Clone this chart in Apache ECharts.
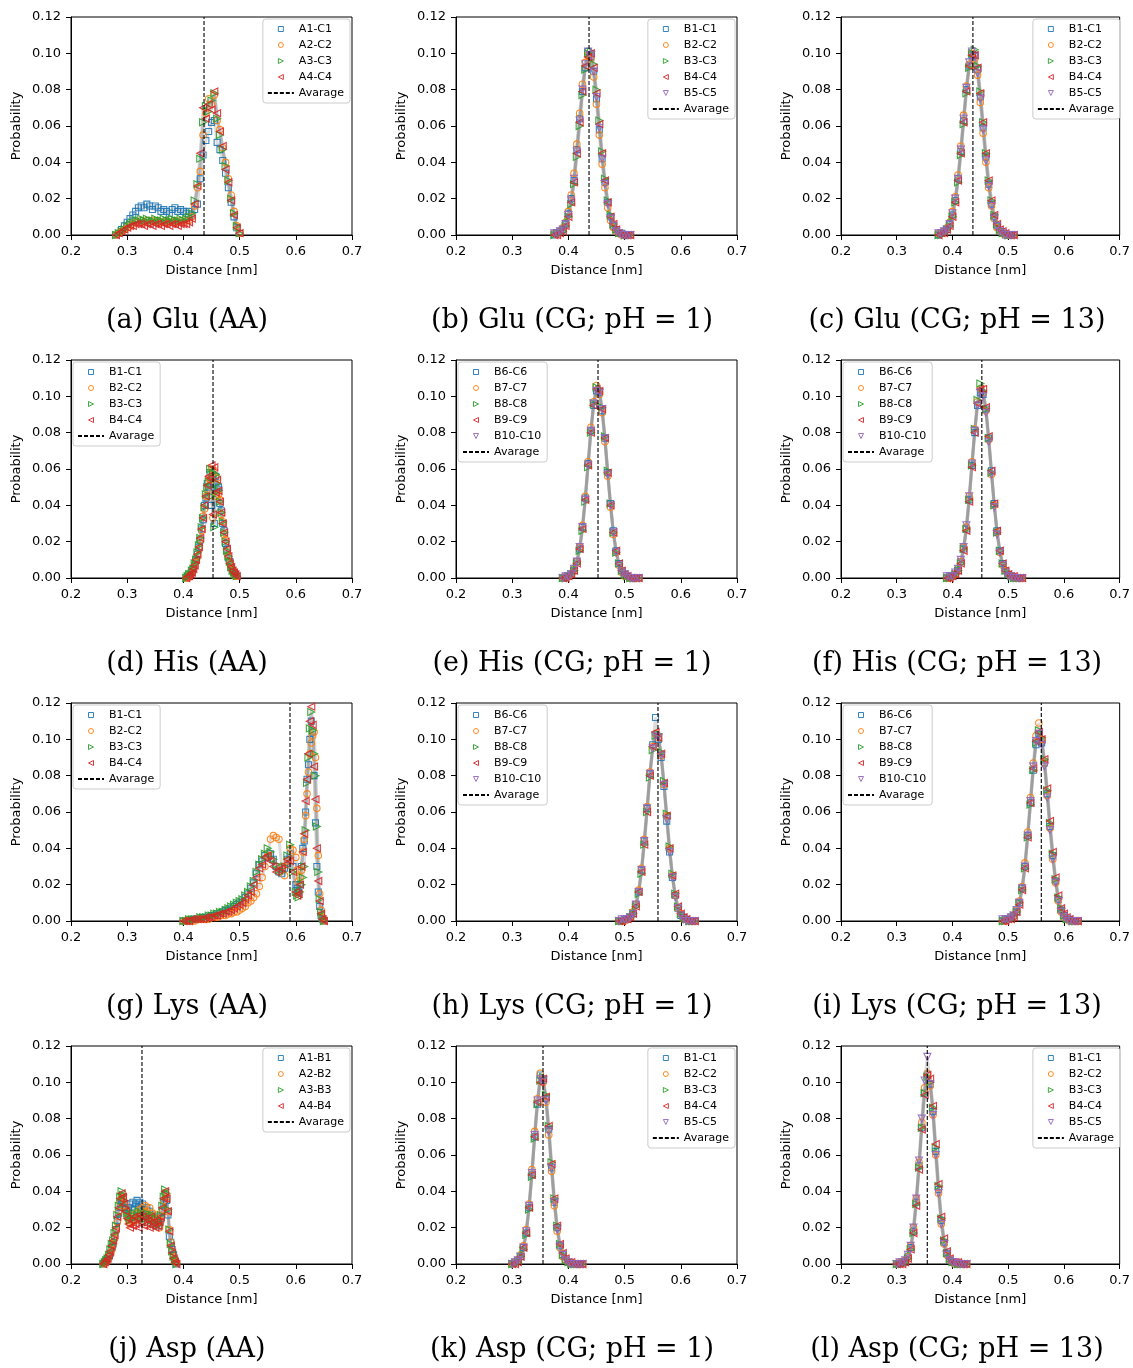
<!DOCTYPE html>
<html><head><meta charset="utf-8">
<script src="https://cdn.jsdelivr.net/npm/echarts/dist/echarts.min.js"></script>
<style>html,body{margin:0;padding:0;background:#fff}#c{width:1133px;height:1368px}</style>
</head><body><div id="c"></div>
<script>
// ---------------- tick labels / axes ----------------
const xTicks = [0.2, 0.3, 0.4, 0.5, 0.6, 0.7];
const yTicks = [0.00, 0.02, 0.04, 0.06, 0.08, 0.10, 0.12];

// ---------------- series names ----------------
const namesGluAA = ['A1-C1', 'A2-C2', 'A3-C3', 'A4-C4'];
const namesB1_5 = ['B1-C1', 'B2-C2', 'B3-C3', 'B4-C4', 'B5-C5'];
const namesB1_4 = ['B1-C1', 'B2-C2', 'B3-C3', 'B4-C4'];
const namesB6_10 = ['B6-C6', 'B7-C7', 'B8-C8', 'B9-C9', 'B10-C10'];
const namesAspAA = ['A1-B1', 'A2-B2', 'A3-B3', 'A4-B4'];
const avgName = 'Avarage';

// ---------------- average distances (dashed lines) ----------------
const averages = [0.4367, 0.4367, 0.4367, 0.4527, 0.4527, 0.4527, 0.5897, 0.5594, 0.5594, 0.3263, 0.3548, 0.3548];

// ---------------- captions ----------------
const captions = ['(a) Glu (AA)', '(b) Glu (CG; pH = 1)', '(c) Glu (CG; pH = 13)',
  '(d) His (AA)', '(e) His (CG; pH = 1)', '(f) His (CG; pH = 13)',
  '(g) Lys (AA)', '(h) Lys (CG; pH = 1)', '(i) Lys (CG; pH = 13)',
  '(j) Asp (AA)', '(k) Asp (CG; pH = 1)', '(l) Asp (CG; pH = 13)'];

// ---------------- (a) Glu AA ----------------
const xGluAA = [.28,.285,.29,.295,.30,.305,.31,.315,.32,.325,.33,.335,.34,.345,.35,.355,.36,.365,.37,.375,.38,.385,.39,.395,.40,.405,.41,.415,.42,.425,.43,.435,.44,.445,.45,.455,.46,.465,.47,.475,.48,.485,.49,.495,.50];
const gluAA_1 = [.000,.001,.003,.005,.007,.009,.011,.013,.015,.016,.015,.017,.016,.014,.016,.015,.013,.014,.013,.012,.014,.015,.013,.014,.013,.012,.013,.011,.014,.017,.031,.044,.052,.057,.062,.063,.051,.047,.041,.034,.026,.018,.010,.004,.001];
const gluAA_2 = [.000,.001,.002,.003,.004,.005,.006,.007,.007,.008,.007,.008,.007,.008,.007,.008,.007,.007,.008,.007,.007,.008,.007,.008,.007,.008,.008,.010,.016,.026,.035,.055,.067,.075,.072,.077,.063,.058,.048,.040,.031,.022,.013,.005,.001];
const gluAA_3 = [.000,.001,.002,.003,.005,.006,.007,.008,.008,.009,.008,.009,.008,.008,.009,.008,.008,.009,.008,.008,.009,.008,.008,.009,.008,.009,.010,.012,.019,.028,.042,.062,.071,.068,.074,.078,.064,.055,.047,.038,.030,.020,.012,.005,.001];
const gluAA_4 = [.000,.001,.002,.003,.004,.005,.005,.006,.006,.006,.005,.006,.006,.005,.006,.006,.005,.006,.006,.005,.006,.006,.005,.006,.006,.006,.007,.009,.017,.027,.045,.070,.064,.072,.069,.079,.067,.057,.049,.036,.029,.019,.011,.004,.001];

// ---------------- (b),(c) Glu CG ----------------
const xGluCG = [.375,.38,.385,.39,.395,.40,.405,.41,.415,.42,.425,.43,.435,.44,.445,.45,.455,.46,.465,.47,.475,.48,.485,.49,.495,.50,.505,.51];
const gluCG1_1 = [.000,.001,.002,.003,.006,.012,.020,.030,.047,.064,.079,.092,.101,.098,.090,.075,.058,.042,.029,.018,.010,.005,.003,.001,.001,.000,.000,.000];
const gluCG1_2 = [.001,.001,.002,.004,.007,.013,.022,.034,.050,.067,.083,.095,.099,.097,.087,.072,.055,.039,.026,.015,.008,.004,.002,.001,.000,.000,.000,.000];
const gluCG1_3 = [.000,.001,.001,.002,.005,.010,.017,.028,.043,.060,.077,.091,.100,.101,.094,.080,.063,.046,.031,.019,.011,.006,.003,.001,.001,.000,.000,.000];
const gluCG1_4 = [.000,.000,.001,.002,.005,.010,.018,.029,.045,.062,.079,.093,.098,.100,.092,.078,.061,.045,.030,.018,.010,.006,.003,.001,.000,.000,.000,.000];
const gluCG1_5 = [.001,.001,.002,.003,.006,.011,.019,.031,.046,.063,.080,.094,.101,.099,.090,.076,.059,.042,.028,.017,.009,.005,.002,.001,.000,.000,.000,.000];
const gluCG13_1 = [.000,.001,.002,.003,.006,.011,.019,.031,.046,.063,.080,.093,.099,.099,.091,.076,.059,.043,.028,.017,.010,.005,.002,.001,.000,.000,.000,.000];
const gluCG13_2 = [.001,.001,.002,.004,.007,.013,.021,.033,.049,.066,.082,.094,.100,.097,.088,.073,.056,.040,.026,.016,.009,.004,.002,.001,.000,.000,.000,.000];
const gluCG13_3 = [.000,.000,.001,.003,.005,.010,.018,.029,.044,.061,.078,.092,.100,.102,.093,.079,.062,.045,.030,.019,.011,.006,.003,.001,.001,.000,.000,.000];
const gluCG13_4 = [.000,.001,.001,.003,.005,.010,.018,.030,.045,.062,.079,.093,.099,.099,.092,.078,.062,.045,.030,.019,.011,.006,.003,.002,.001,.000,.000,.000];
const gluCG13_5 = [.001,.001,.002,.003,.006,.012,.020,.031,.047,.064,.081,.095,.101,.098,.089,.075,.058,.041,.027,.016,.009,.005,.002,.001,.000,.000,.000,.000];

// ---------------- (d) His AA ----------------
const xHisAA = [.405,.4075,.41,.4125,.415,.4175,.42,.4225,.425,.4275,.43,.4325,.435,.4375,.44,.4425,.445,.4475,.45,.4525,.455,.4575,.46,.4625,.465,.4675,.47,.4725,.475,.4775,.48,.4825,.485,.4875,.49,.4925,.495];
const hisAA_1 = [.000,.001,.001,.002,.003,.005,.007,.010,.013,.017,.021,.027,.032,.040,.044,.052,.050,.058,.040,.057,.030,.056,.049,.050,.041,.037,.030,.026,.019,.016,.011,.009,.006,.004,.003,.002,.001];
const hisAA_2 = [.000,.000,.001,.002,.003,.004,.007,.009,.012,.016,.021,.026,.034,.038,.045,.049,.055,.054,.060,.033,.059,.045,.055,.046,.043,.035,.031,.024,.021,.015,.012,.008,.006,.004,.003,.001,.001];
const hisAA_3 = [.000,.001,.002,.002,.004,.005,.008,.010,.014,.018,.022,.028,.033,.039,.046,.050,.053,.060,.045,.058,.028,.057,.052,.048,.042,.036,.031,.025,.020,.015,.012,.009,.006,.004,.003,.002,.001];
const hisAA_4 = [.000,.001,.001,.002,.003,.005,.007,.010,.013,.017,.022,.027,.033,.040,.045,.051,.056,.055,.062,.035,.061,.047,.054,.048,.042,.036,.030,.025,.020,.016,.012,.008,.006,.004,.003,.002,.001];

// ---------------- (e),(f) His CG ----------------
const xHisCG = [.39,.395,.40,.405,.41,.415,.42,.425,.43,.435,.44,.445,.45,.455,.46,.465,.47,.475,.48,.485,.49,.495,.50,.505,.51,.515,.52,.525];
const hisCG1_1 = [.000,.000,.001,.002,.004,.009,.016,.028,.044,.063,.081,.095,.103,.102,.092,.077,.058,.041,.026,.015,.008,.004,.002,.001,.000,.000,.000,.000];
const hisCG1_2 = [.000,.001,.001,.002,.005,.009,.017,.029,.045,.064,.083,.097,.106,.101,.091,.075,.056,.039,.024,.014,.007,.003,.001,.001,.000,.000,.000,.000];
const hisCG1_3 = [.000,.000,.001,.002,.004,.008,.015,.026,.042,.061,.080,.096,.105,.104,.094,.078,.059,.041,.025,.014,.008,.004,.002,.001,.000,.000,.000,.000];
const hisCG1_4 = [.000,.000,.001,.002,.004,.008,.016,.027,.043,.062,.080,.095,.104,.103,.093,.077,.058,.040,.025,.015,.008,.004,.002,.001,.000,.000,.000,.000];
const hisCG1_5 = [.000,.001,.001,.002,.005,.009,.017,.028,.043,.062,.081,.096,.103,.102,.093,.077,.057,.040,.025,.014,.007,.003,.002,.001,.000,.000,.000,.000];
const hisCG13_1 = [.000,.001,.001,.002,.004,.009,.016,.027,.043,.062,.080,.095,.102,.101,.093,.077,.059,.041,.026,.015,.008,.004,.002,.001,.000,.000,.000,.000];
const hisCG13_2 = [.000,.000,.001,.002,.005,.009,.017,.028,.045,.064,.082,.097,.104,.102,.092,.076,.057,.040,.025,.014,.007,.004,.002,.001,.000,.000,.000,.000];
const hisCG13_3 = [.000,.000,.001,.002,.004,.008,.016,.027,.043,.062,.082,.098,.107,.103,.093,.077,.058,.040,.025,.015,.008,.004,.002,.001,.000,.000,.000,.000];
const hisCG13_4 = [.000,.000,.001,.002,.004,.008,.015,.026,.042,.061,.080,.096,.104,.104,.094,.078,.059,.041,.026,.015,.008,.004,.002,.001,.001,.000,.000,.000];
const hisCG13_5 = [.001,.001,.001,.003,.005,.010,.017,.029,.045,.063,.081,.095,.102,.100,.091,.075,.057,.039,.024,.014,.007,.003,.001,.001,.000,.000,.000,.000];

// ---------------- (g) Lys AA ----------------
const xLysAA = [.40,.405,.41,.415,.42,.425,.43,.435,.44,.445,.45,.455,.46,.465,.47,.475,.48,.485,.49,.495,.50,.505,.51,.515,.52,.525,.53,.535,.54,.545,.55,.555,.56,.565,.57,.575,.58,.585,.59,.595,.60,.6025,.605,.6075,.61,.6125,.615,.6175,.62,.6225,.625,.6275,.63,.6325,.635,.6375,.64,.6425,.645,.6475,.65];
const lysAA_1 = [.000,.000,.000,.001,.001,.001,.001,.002,.002,.002,.003,.003,.004,.004,.005,.006,.006,.007,.008,.009,.010,.011,.013,.015,.018,.021,.026,.031,.033,.036,.035,.037,.034,.030,.027,.026,.029,.034,.037,.030,.020,.018,.016,.020,.030,.040,.044,.060,.078,.086,.100,.110,.104,.080,.054,.030,.016,.008,.003,.001,.000];
const lysAA_2 = [.000,.000,.000,.000,.000,.001,.001,.001,.001,.001,.002,.002,.002,.003,.003,.003,.004,.004,.005,.005,.006,.007,.008,.010,.011,.013,.015,.019,.024,.030,.036,.045,.047,.046,.045,.030,.025,.033,.040,.039,.035,.028,.022,.024,.028,.038,.045,.058,.070,.082,.092,.098,.102,.104,.090,.062,.036,.015,.006,.002,.000];
const lysAA_3 = [.000,.000,.001,.001,.001,.001,.002,.002,.002,.003,.003,.004,.004,.005,.005,.006,.007,.008,.009,.010,.011,.012,.014,.016,.019,.022,.027,.031,.034,.037,.040,.038,.034,.031,.028,.027,.030,.036,.042,.027,.016,.014,.013,.016,.020,.024,.030,.050,.076,.090,.106,.115,.105,.092,.080,.052,.027,.012,.005,.002,.000];
const lysAA_4 = [.000,.000,.000,.001,.001,.001,.001,.001,.002,.002,.002,.003,.003,.004,.004,.005,.005,.006,.007,.008,.009,.010,.012,.014,.016,.020,.024,.029,.031,.035,.036,.033,.030,.027,.028,.029,.031,.034,.033,.027,.016,.014,.015,.020,.030,.038,.048,.066,.078,.092,.110,.118,.108,.085,.067,.040,.022,.011,.004,.001,.000];

// ---------------- (h),(i) Lys CG ----------------
const xLysCG = [.49,.495,.50,.505,.51,.515,.52,.525,.53,.535,.54,.545,.55,.555,.56,.565,.57,.575,.58,.585,.59,.595,.60,.605,.61,.615,.62,.625];
const lysCG1_1 = [.000,.000,.001,.001,.002,.004,.009,.016,.028,.044,.062,.081,.097,.112,.100,.090,.074,.055,.038,.024,.014,.007,.003,.002,.001,.000,.000,.000];
const lysCG1_2 = [.000,.000,.000,.001,.002,.005,.009,.017,.029,.045,.063,.082,.096,.103,.101,.091,.075,.058,.040,.025,.014,.007,.004,.001,.001,.000,.000,.000];
const lysCG1_3 = [.000,.000,.000,.001,.002,.004,.008,.015,.026,.042,.060,.079,.094,.102,.103,.093,.077,.059,.041,.026,.015,.008,.004,.002,.001,.000,.000,.000];
const lysCG1_4 = [.000,.000,.001,.001,.002,.004,.008,.016,.027,.042,.060,.080,.096,.104,.101,.092,.076,.058,.040,.025,.015,.008,.004,.002,.001,.000,.000,.000];
const lysCG1_5 = [.000,.001,.001,.001,.002,.004,.009,.016,.028,.044,.062,.081,.095,.102,.101,.091,.075,.056,.038,.024,.013,.007,.003,.001,.000,.000,.000,.000];
const lysCG13_1 = [.000,.001,.001,.002,.003,.005,.010,.018,.030,.047,.065,.083,.097,.103,.098,.087,.070,.052,.036,.022,.012,.006,.003,.001,.001,.000,.000,.000];
const lysCG13_2 = [.000,.000,.001,.002,.003,.006,.011,.019,.032,.049,.068,.087,.102,.109,.100,.087,.069,.051,.034,.021,.011,.005,.002,.001,.000,.000,.000,.000];
const lysCG13_3 = [.000,.000,.001,.001,.003,.005,.010,.017,.029,.046,.064,.083,.098,.105,.101,.089,.072,.054,.037,.023,.013,.007,.003,.001,.001,.000,.000,.000];
const lysCG13_4 = [.000,.000,.001,.001,.002,.005,.009,.017,.029,.046,.065,.084,.099,.104,.100,.089,.073,.055,.038,.024,.014,.007,.004,.002,.001,.000,.000,.000];
const lysCG13_5 = [.001,.001,.001,.002,.003,.006,.010,.018,.030,.047,.066,.085,.099,.103,.097,.085,.068,.050,.034,.021,.011,.005,.002,.001,.000,.000,.000,.000];

// ---------------- (j) Asp AA ----------------
const xAspAA = [.2575,.26,.2625,.265,.2675,.27,.2725,.275,.2775,.28,.2825,.285,.2875,.29,.2925,.295,.2975,.30,.3025,.305,.3075,.31,.3125,.315,.3175,.32,.3225,.325,.3275,.33,.3325,.335,.3375,.34,.3425,.345,.3475,.35,.3525,.355,.3575,.36,.3625,.365,.3675,.37,.3725,.375,.3775,.38,.3825,.385,.3875];
const aspAA_1 = [.000,.001,.002,.003,.004,.006,.009,.011,.015,.019,.024,.028,.033,.035,.034,.031,.030,.029,.031,.033,.028,.034,.030,.033,.035,.031,.034,.029,.033,.030,.027,.031,.026,.029,.025,.027,.023,.026,.022,.024,.021,.025,.029,.033,.038,.035,.027,.015,.012,.008,.005,.002,.000];
const aspAA_2 = [.000,.001,.001,.002,.004,.006,.008,.011,.014,.018,.023,.029,.034,.037,.036,.032,.029,.026,.024,.022,.025,.023,.027,.024,.028,.026,.030,.027,.031,.028,.032,.029,.027,.031,.026,.028,.024,.027,.022,.025,.020,.024,.030,.035,.039,.037,.029,.019,.012,.007,.004,.002,.001];
const aspAA_3 = [.000,.001,.002,.003,.005,.008,.011,.013,.017,.021,.027,.032,.037,.040,.038,.035,.031,.028,.026,.024,.027,.025,.028,.024,.026,.029,.025,.028,.024,.027,.025,.028,.023,.026,.024,.027,.022,.025,.021,.024,.022,.027,.032,.037,.041,.039,.030,.019,.011,.007,.004,.002,.000];
const aspAA_4 = [.000,.001,.002,.003,.005,.007,.010,.013,.016,.020,.026,.031,.036,.039,.037,.033,.029,.025,.022,.020,.024,.021,.026,.022,.025,.020,.027,.023,.026,.021,.025,.022,.024,.020,.026,.021,.023,.020,.024,.021,.023,.026,.031,.036,.040,.036,.029,.018,.010,.006,.003,.001,.000];

// ---------------- (k),(l) Asp CG ----------------
const xAspCG = [.30,.305,.31,.315,.32,.325,.33,.335,.34,.345,.35,.355,.36,.365,.37,.375,.38,.385,.39,.395,.40,.405,.41,.415,.42,.425];
const aspCG1_1 = [.000,.001,.002,.004,.009,.017,.031,.049,.070,.088,.104,.101,.091,.074,.053,.034,.020,.010,.005,.002,.001,.000,.000,.000,.000,.000];
const aspCG1_2 = [.000,.001,.002,.005,.010,.019,.033,.052,.073,.091,.105,.100,.089,.071,.051,.032,.018,.009,.004,.002,.001,.000,.000,.000,.000,.000];
const aspCG1_3 = [.000,.000,.001,.004,.008,.016,.030,.048,.069,.088,.101,.103,.093,.076,.056,.036,.021,.011,.005,.002,.001,.000,.000,.000,.000,.000];
const aspCG1_4 = [.000,.000,.001,.004,.009,.017,.031,.049,.070,.089,.100,.102,.092,.076,.055,.036,.021,.011,.006,.003,.001,.001,.000,.000,.000,.000];
const aspCG1_5 = [.000,.001,.002,.004,.009,.018,.032,.050,.071,.090,.102,.101,.090,.073,.053,.034,.019,.010,.005,.002,.001,.000,.000,.000,.000,.000];
const aspCG13_1 = [.000,.000,.001,.001,.004,.009,.018,.034,.054,.075,.094,.104,.099,.084,.062,.041,.024,.012,.006,.002,.001,.000,.000,.000,.000,.000];
const aspCG13_2 = [.000,.001,.001,.002,.004,.010,.020,.036,.056,.078,.097,.105,.098,.082,.060,.039,.022,.011,.005,.002,.001,.000,.000,.000,.000,.000];
const aspCG13_3 = [.000,.000,.000,.001,.003,.008,.017,.033,.053,.075,.094,.103,.100,.086,.064,.043,.025,.013,.006,.003,.001,.001,.000,.000,.000,.000];
const aspCG13_4 = [.000,.000,.000,.001,.003,.008,.017,.032,.052,.074,.093,.104,.102,.087,.066,.044,.026,.014,.007,.003,.001,.001,.001,.000,.000,.000];
const aspCG13_5 = [.000,.001,.001,.002,.005,.010,.020,.036,.057,.080,.101,.114,.099,.082,.060,.039,.022,.011,.005,.002,.001,.001,.000,.000,.000,.000];

// ---------------- panel assembly ----------------
const panels = [
  {x: xGluAA, ys: [gluAA_1, gluAA_2, gluAA_3, gluAA_4], names: namesGluAA, leg: 'right'},
  {x: xGluCG, ys: [gluCG1_1, gluCG1_2, gluCG1_3, gluCG1_4, gluCG1_5], names: namesB1_5, leg: 'right'},
  {x: xGluCG, ys: [gluCG13_1, gluCG13_2, gluCG13_3, gluCG13_4, gluCG13_5], names: namesB1_5, leg: 'right'},
  {x: xHisAA, ys: [hisAA_1, hisAA_2, hisAA_3, hisAA_4], names: namesB1_4, leg: 'left'},
  {x: xHisCG, ys: [hisCG1_1, hisCG1_2, hisCG1_3, hisCG1_4, hisCG1_5], names: namesB6_10, leg: 'left'},
  {x: xHisCG, ys: [hisCG13_1, hisCG13_2, hisCG13_3, hisCG13_4, hisCG13_5], names: namesB6_10, leg: 'left'},
  {x: xLysAA, ys: [lysAA_1, lysAA_2, lysAA_3, lysAA_4], names: namesB1_4, leg: 'left'},
  {x: xLysCG, ys: [lysCG1_1, lysCG1_2, lysCG1_3, lysCG1_4, lysCG1_5], names: namesB6_10, leg: 'left'},
  {x: xLysCG, ys: [lysCG13_1, lysCG13_2, lysCG13_3, lysCG13_4, lysCG13_5], names: namesB6_10, leg: 'left'},
  {x: xAspAA, ys: [aspAA_1, aspAA_2, aspAA_3, aspAA_4], names: namesAspAA, leg: 'right'},
  {x: xAspCG, ys: [aspCG1_1, aspCG1_2, aspCG1_3, aspCG1_4, aspCG1_5], names: namesB1_5, leg: 'right'},
  {x: xAspCG, ys: [aspCG13_1, aspCG13_2, aspCG13_3, aspCG13_4, aspCG13_5], names: namesB1_5, leg: 'right'}
];

const COLORS = ['#1f77b4', '#ff7f0e', '#2ca02c', '#d62728', '#9467bd'];
const MARKS = [
  {symbol: 'path://M0,0L10,0L10,10L0,10Z', size: 6},
  {symbol: 'circle', size: 6.5},
  {symbol: 'path://M0,0L10,5L0,10Z', size: 7},
  {symbol: 'path://M10,0L0,5L10,10Z', size: 7},
  {symbol: 'path://M0,0L10,0L5,10Z', size: 7}
];
const colLeft = [71, 456, 841], rowTop = [17, 360, 703, 1046], W = 281, H = 218;
const capX = [187, 572, 957], capY = [321, 664, 1007, 1350];
const FONT = 'DejaVu Sans';

const grid = [], xAxis = [], yAxis = [], series = [], legend = [], graphic = [];
panels.forEach((p, i) => {
  const r = Math.floor(i / 3), c = i % 3;
  const left = colLeft[c], top = rowTop[r];
  grid.push({left: left, top: top, width: W, height: H, containLabel: false,
    show: true, borderColor: '#000', borderWidth: 1, backgroundColor: 'rgba(0,0,0,0)'});
  xAxis.push({gridIndex: i, type: 'value', min: xTicks[0], max: xTicks[xTicks.length - 1], interval: 0.1,
    axisLine: {show: true, onZero: false, lineStyle: {color: '#000', width: 1}},
    axisTick: {show: true, length: 5, lineStyle: {color: '#000', width: 1}},
    axisLabel: {formatter: v => v.toFixed(1), fontFamily: FONT, fontSize: 13, color: '#000', margin: 10},
    splitLine: {show: false},
    name: 'Distance [nm]', nameLocation: 'middle', nameGap: 29, nameMoveOverlap: false,
    nameTextStyle: {fontFamily: FONT, fontSize: 13, color: '#000'}});
  yAxis.push({gridIndex: i, type: 'value', min: yTicks[0], max: yTicks[yTicks.length - 1], interval: 0.02,
    axisLine: {show: true, onZero: false, lineStyle: {color: '#000', width: 1}},
    axisTick: {show: true, length: 5, lineStyle: {color: '#000', width: 1}},
    axisLabel: {formatter: v => v.toFixed(2), fontFamily: FONT, fontSize: 13, color: '#000', margin: 10},
    splitLine: {show: false},
    name: 'Probability', nameLocation: 'middle', nameGap: 48, nameRotate: 90, nameMoveOverlap: false,
    nameTextStyle: {fontFamily: FONT, fontSize: 13, color: '#000'}});
  // gray connecting lines (one per replicate)
  p.ys.forEach((ys, k) => {
    series.push({type: 'line', name: '_line' + i + '_' + k, xAxisIndex: i, yAxisIndex: i,
      data: p.x.map((x, j) => [x, ys[j]]), symbol: 'none', silent: true, animation: false, z: 1,
      lineStyle: {color: 'rgba(140,140,140,0.3)', width: 3}});
  });
  // markers
  p.ys.forEach((ys, k) => {
    const m = MARKS[k];
    series.push({type: 'scatter', name: p.names[k], xAxisIndex: i, yAxisIndex: i,
      data: p.x.map((x, j) => [x, ys[j]]), symbol: m.symbol, symbolSize: m.size, symbolKeepAspect: true,
      animation: false, z: 3, clip: false,
      itemStyle: {color: 'rgba(255,255,255,0)', borderColor: COLORS[k], borderWidth: 1.1, opacity: 0.9}});
  });
  // average dashed line
  series.push({type: 'line', name: avgName, xAxisIndex: i, yAxisIndex: i,
    data: [[averages[i], yTicks[0]], [averages[i], yTicks[yTicks.length - 1]]],
    symbol: 'none', animation: false, z: 4, silent: true,
    itemStyle: {color: 'rgba(0,0,0,0)'},
    lineStyle: {color: '#000', width: 1.1, type: [4, 2]}});
  const lg = {show: true, orient: 'vertical', top: top + 2,
    data: p.names.map(n => ({name: n})).concat([{name: avgName, itemStyle: {color: 'rgba(0,0,0,0)', borderWidth: 0, borderColor: 'rgba(0,0,0,0)'}}]),
    itemWidth: 26, itemHeight: 5, itemGap: 4, selectedMode: false, symbolKeepAspect: true,
    textStyle: {fontFamily: FONT, fontSize: 11, color: '#000', lineHeight: 12},
    backgroundColor: 'rgba(255,255,255,0.8)', borderColor: '#cccccc', borderWidth: 1, borderRadius: 3,
    padding: [4, 6, 4, 4], itemStyle: {borderWidth: 1}};
  if (p.leg === 'right') lg.right = 1133 - (left + W - 2); else lg.left = left + 2;
  legend.push(lg);
  graphic.push({type: 'text', x: capX[c], y: capY[r], silent: true,
    style: {text: captions[i], fontFamily: 'DejaVu Serif', fontSize: 27, fill: '#000',
      align: 'center', verticalAlign: 'middle', textAlign: 'center', textVerticalAlign: 'middle'}});
});

const chart = echarts.init(document.getElementById('c'), null, {renderer: 'canvas'});
chart.setOption({animation: false, backgroundColor: '#fff', grid, xAxis, yAxis, series, legend, graphic, tooltip: {show: false}});
</script>
</body></html>
